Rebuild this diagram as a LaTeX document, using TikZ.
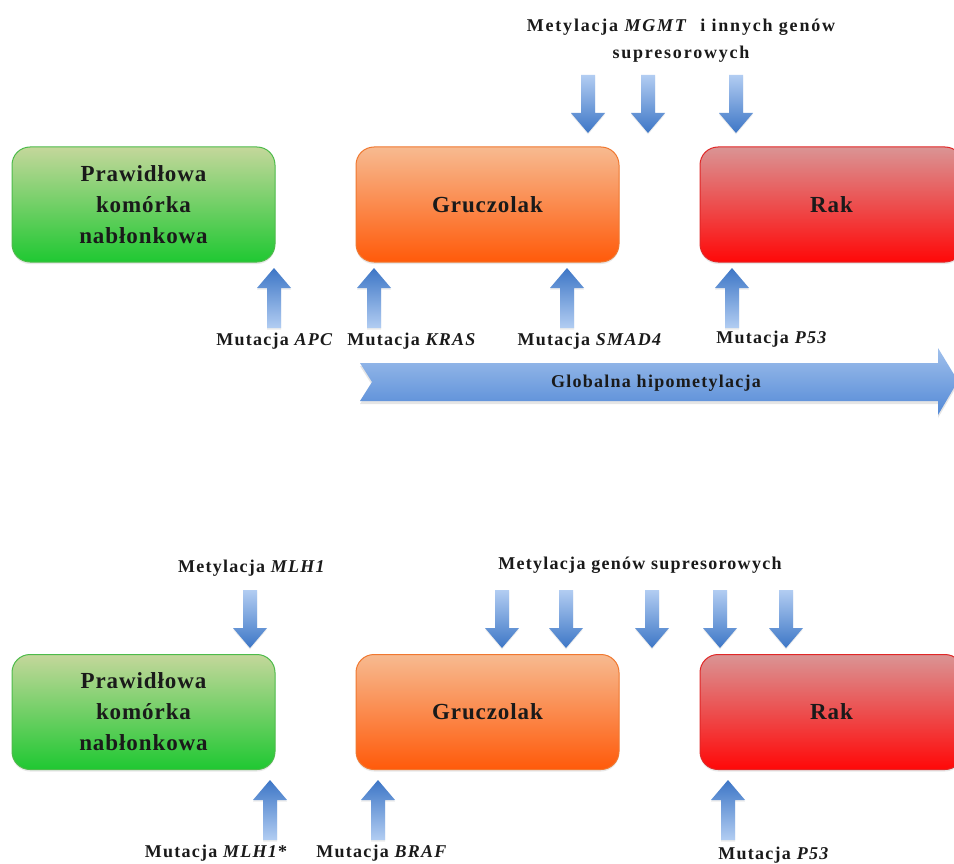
\documentclass[tikz,border=0pt]{standalone}
\usepackage{fontspec}
\setmainfont{Liberation Serif}
\usetikzlibrary{shadows}
\definecolor{arrlight}{HTML}{B2CDF2}
\definecolor{arrdark}{HTML}{3D76C6}
\definecolor{bigtop}{HTML}{A0C0EC}
\definecolor{bigbot}{HTML}{5389D6}
\definecolor{greentop}{HTML}{C4D79B}
\definecolor{greenbot}{HTML}{1FC832}
\definecolor{greenedge}{HTML}{4DBB4A}
\definecolor{orangetop}{HTML}{F7BA90}
\definecolor{orangebot}{HTML}{FF5A0A}
\definecolor{orangeedge}{HTML}{F07830}
\definecolor{redtop}{HTML}{DA9494}
\definecolor{redbot}{HTML}{FF0808}
\definecolor{rededge}{HTML}{E02828}
\definecolor{txt}{HTML}{1A1A1A}
\newfontfamily\boxfont[LetterSpace=4]{Liberation Serif}
\newfontfamily\lblfont[LetterSpace=7]{Liberation Serif}
\newfontfamily\widefont[LetterSpace=10]{Liberation Serif}
\tikzset{
  stagebox/.style={rounded corners=18pt, minimum width=263pt, minimum height=115pt,
    draw, line width=1pt, align=center, text=txt, inner sep=0pt,
    font=\boxfont\fontsize{23}{31}\selectfont\bfseries,
    drop shadow={shadow xshift=0pt, shadow yshift=-2pt, opacity=0.18}},
  greenbox/.style={stagebox, draw=greenedge, top color=greentop, bottom color=greenbot},
  orangebox/.style={stagebox, draw=orangeedge, top color=orangetop, bottom color=orangebot},
  redbox/.style={stagebox, draw=rededge, top color=redtop, bottom color=redbot},
  lbl/.style={font=\lblfont\fontsize{18}{27}\selectfont\bfseries, text=txt, inner sep=0pt, align=center},
  widelbl/.style={lbl, font=\widefont\fontsize{18}{27}\selectfont\bfseries},
  pics/dnarr/.style={code={
    \shade[top color=arrlight, bottom color=arrdark,
      drop shadow={shadow xshift=0pt, shadow yshift=-1.5pt, opacity=0.15}]
      (-7,0) -- (7,0) -- (7,38) -- (17,38) -- (0,58) -- (-17,38) -- (-7,38) -- cycle;}},
  pics/uparr/.style={code={
    \shade[top color=arrdark, bottom color=arrlight,
      drop shadow={shadow xshift=0pt, shadow yshift=-1.5pt, opacity=0.15}]
      (0,0) -- (17,20) -- (7,20) -- (7,60) -- (-7,60) -- (-7,20) -- (-17,20) -- cycle;}}
}
\begin{document}
\begin{tikzpicture}[x=1pt, y=-1pt]
\useasboundingbox (0,0) rectangle (954,864);
\clip (0,0) rectangle (954,864);
\fill[white] (0,0) rectangle (954,864);

% ---------- top diagram ----------
\node[widelbl] (lmgmt) at (681,41) {Metylacja \textit{MGMT}\hspace{12pt}i innych genów\\supresorowych};
\pic at (588,75) {dnarr};
\pic at (648,75) {dnarr};
\pic at (736,75) {dnarr};

\node[greenbox]  (g1) at (143.5,204.5) {Prawidłowa\\komórka\\nabłonkowa};
\node[orangebox] (o1) at (487.5,204.5) {Gruczolak};
\node[redbox]    (r1) at (831.5,204.5) {Rak};

\pic at (274,268) {uparr};
\pic at (374,268) {uparr};
\pic at (567,268) {uparr};
\pic at (732,268) {uparr};

\node[lbl] (lapc)  at (275,341) {Mutacja \textit{APC}};
\node[lbl] (lkras) at (412,341) {Mutacja \textit{KRAS}};
\node[lbl] (lsmad) at (590,341) {Mutacja \textit{SMAD4}};
\node[lbl] (lp53a) at (772,339) {Mutacja \textit{P53}};

\shade[top color=bigtop, bottom color=bigbot,
  drop shadow={shadow xshift=0pt, shadow yshift=-3pt, opacity=0.2}]
  (360,363) -- (938,363) -- (938,348) -- (958,381) -- (938,415) -- (938,401)
  -- (360,401) -- (372,382) -- cycle;
\node[lbl] (hypo) at (656,383) {Globalna hipometylacja};

% ---------- bottom diagram ----------
\node[lbl] (lmlh) at (252,568) {Metylacja \textit{MLH1}};
\pic at (250,590) {dnarr};
\node[lbl] (lsup) at (640,565) {Metylacja genów supresorowych};
\pic at (502,590) {dnarr};
\pic at (566,590) {dnarr};
\pic at (652,590) {dnarr};
\pic at (720,590) {dnarr};
\pic at (786,590) {dnarr};

\node[greenbox]  (g2) at (143.5,712) {Prawidłowa\\komórka\\nabłonkowa};
\node[orangebox] (o2) at (487.5,712) {Gruczolak};
\node[redbox]    (r2) at (831.5,712) {Rak};

\pic at (270,780) {uparr};
\pic at (378,780) {uparr};
\pic at (728,780) {uparr};

\node[lbl] (lmlhm) at (216,853) {Mutacja \textit{MLH1}*};
\node[lbl] (lbraf) at (382,853) {Mutacja \textit{BRAF}};
\node[lbl] (lp53b) at (774,855) {Mutacja \textit{P53}};
\end{tikzpicture}
\end{document}
